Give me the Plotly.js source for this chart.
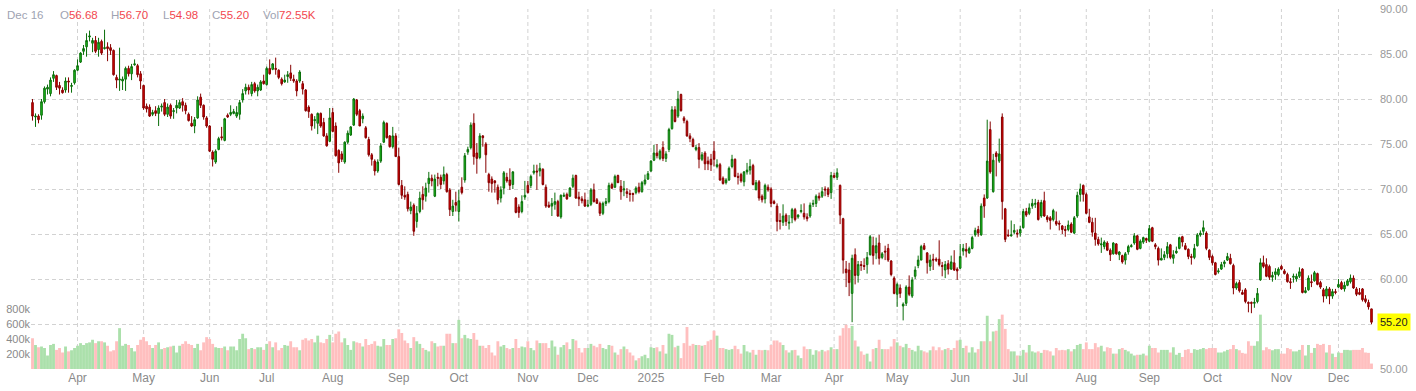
<!DOCTYPE html>
<html><head><meta charset="utf-8">
<script src="https://cdn.plot.ly/plotly-3.0.1.min.js"></script>
<style>html,body{margin:0;padding:0;background:#fff;}#chart{width:1416px;height:391px;}</style>
</head><body><div id="chart"></div>
<script>
// ---- calendar (categories) ----
const startDate = '2024-03-08';
const endDate = '2025-12-16';
const marketHolidays = ['2024-03-29','2024-05-27','2024-06-19','2024-07-04','2024-09-02','2024-11-28','2024-12-25',
  '2025-01-01','2025-01-20','2025-02-17','2025-04-18','2025-05-26','2025-06-19','2025-07-04','2025-09-01','2025-11-27'];
const monthTickLabels = ['Apr','May','Jun','Jul','Aug','Sep','Oct','Nov','Dec','2025','Feb','Mar','Apr','May','Jun','Jul','Aug','Sep','Oct','Nov','Dec'];
const volumeTickVals = [200,400,600,800];
const volumeTickText = ['200k','400k','600k','800k'];

// ---- OHLC (one line per month) ----
const open = [
79.6,78.0,78.1,78.2,79.7,81.1,80.6,82.3,82.6,81.5,81.0,81.0,82.0,81.4,81.8,
83.2,84.1,85.3,85.8,86.9,86.2,86.5,85.5,86.4,85.6,85.8,85.7,85.4,82.4,82.1,82.0,82.2,83.4,82.8,83.8,83.7,82.8,
81.5,79.2,79.1,78.3,78.7,78.4,79.1,79.6,78.3,79.3,78.6,79.0,79.0,79.7,79.3,78.3,77.3,77.0,77.9,80.2,79.3,77.9,
77.0,74.1,73.0,74.4,75.8,75.4,78.2,78.3,78.4,78.1,78.3,79.9,80.9,81.3,80.6,81.7,80.9,81.0,82.0,
81.6,83.4,83.3,83.4,83.2,82.2,81.9,82.5,82.9,82.2,82.0,82.0,81.7,81.0,79.1,78.3,77.6,77.3,78.4,77.4,75.9,75.3,
78.5,77.0,74.3,73.9,73.0,75.2,76.0,77.1,79.9,78.7,77.8,76.8,75.5,73.8,73.1,72.0,73.1,75.2,77.3,75.9,74.7,75.9,
73.6,70.4,69.3,69.4,67.6,68.2,66.4,67.5,69.4,69.2,70.6,71.2,69.2,71.3,71.3,70.9,71.6,69.9,67.5,68.5,
67.5,70.2,71.0,74.1,74.6,77.3,74.0,73.5,75.9,75.0,71.6,71.1,70.9,70.2,69.0,70.1,71.3,71.0,70.5,69.0,68.0,67.5,69.1,
70.4,70.4,71.8,72.0,72.0,72.2,70.2,68.2,68.1,68.3,68.6,66.9,69.2,69.4,69.2,70.3,71.5,69.1,68.9,68.8,
68.1,68.3,69.9,68.8,68.4,67.3,68.4,68.6,70.5,70.2,71.5,70.3,69.9,69.7,69.5,69.5,69.6,70.2,69.7,70.6,71.1,
72.0,73.2,74.0,73.4,74.6,73.4,74.4,76.7,78.8,78.1,80.5,77.9,77.5,75.9,75.5,74.4,74.6,73.3,74.0,73.1,73.3,
74.2,72.5,72.7,71.2,70.7,71.0,72.5,73.3,71.4,71.6,70.8,71.9,72.1,72.6,69.9,70.8,69.2,68.9,70.2,
70.0,68.6,68.1,66.5,66.3,67.1,66.2,66.8,67.7,66.9,67.5,67.3,66.9,67.0,68.3,68.4,69.2,69.2,70.0,70.0,69.6,
71.5,71.3,70.4,66.7,61.1,61.0,58.4,62.7,60.4,61.6,61.5,61.6,62.7,63.7,62.9,64.0,62.4,63.1,63.4,62.0,60.1,
58.3,59.0,57.0,57.3,59.1,58.1,60.3,61.5,62.1,63.7,62.9,61.4,62.2,62.2,62.2,61.5,61.0,61.7,61.1,61.8,61.1,
61.2,63.1,63.3,62.9,63.4,64.9,65.5,64.9,69.0,69.0,76.6,69.7,74.0,73.1,78.0,67.8,64.9,64.8,65.2,65.1,
65.1,65.7,67.5,67.3,68.1,68.3,68.5,67.0,68.7,66.9,66.8,66.6,66.4,66.2,65.9,65.5,65.5,66.1,65.1,67.0,69.4,70.4,
69.4,66.9,66.3,65.1,64.4,63.8,63.6,64.0,63.2,62.8,63.9,62.7,62.6,62.1,63.0,63.6,64.0,64.8,63.4,64.1,64.5,
64.2,65.7,63.8,63.4,62.1,62.4,62.8,63.8,62.3,62.9,63.4,64.7,63.7,63.3,62.5,62.4,63.7,64.9,65.3,65.1,63.2,
62.5,61.8,60.8,61.1,61.7,62.1,62.3,61.5,59.0,59.6,58.5,58.8,57.4,57.4,57.3,57.5,59.9,61.8,61.6,61.4,60.2,60.5,60.5,
61.4,60.9,60.5,59.7,60.2,60.0,60.3,61.1,58.5,58.8,59.7,59.8,60.6,59.6,58.8,58.1,58.9,58.1,58.6,
59.1,59.6,58.9,59.3,59.7,60.1,58.9,58.5,58.9,57.8,57.4,56.68
];
const high = [
80.0,78.4,78.3,80.0,81.4,81.6,82.4,83.1,82.7,81.9,81.3,82.4,82.4,81.8,83.3,
84.4,85.2,86.0,87.3,87.6,86.8,87.0,86.8,86.6,87.7,86.3,86.1,85.5,82.7,85.7,82.5,83.6,83.7,83.9,84.4,83.9,83.1,
81.6,79.5,79.4,78.8,79.2,79.3,79.5,80.0,79.5,79.5,79.0,79.9,79.9,80.1,79.6,78.5,78.1,78.0,80.3,80.6,79.4,78.1,
77.1,74.3,74.4,75.8,76.9,77.9,78.4,79.3,78.9,79.2,79.9,81.1,81.7,81.6,81.9,81.9,81.6,82.1,82.7,
83.6,84.4,84.0,84.6,83.3,82.4,82.7,83.1,83.8,82.7,82.2,83.2,82.0,81.1,79.3,78.4,78.1,78.5,78.5,77.9,76.2,79.0,
79.0,77.4,74.4,74.2,75.3,76.5,77.0,80.1,80.0,78.9,78.4,77.0,75.8,74.0,73.3,73.3,75.1,77.6,77.4,76.0,76.9,76.2,
74.6,71.0,70.3,69.7,68.6,68.4,68.1,69.7,70.3,70.7,71.9,71.6,71.6,71.8,71.6,72.5,71.8,70.1,68.8,69.7,
69.9,71.3,74.0,74.7,77.4,78.4,75.1,76.2,76.0,75.2,71.8,71.4,71.0,70.5,70.3,72.0,71.8,72.3,72.0,69.1,68.3,69.3,70.9,
70.9,71.6,72.7,72.7,72.9,72.3,70.5,68.6,69.0,69.6,68.8,69.4,69.6,69.6,70.2,71.6,71.6,69.7,69.2,69.6,
68.8,70.1,70.6,69.0,68.6,68.6,69.0,70.7,70.7,71.6,71.6,71.0,70.9,70.1,69.9,69.6,70.3,70.7,70.9,71.6,72.0,
73.2,74.9,75.0,74.4,75.3,74.2,76.8,79.2,79.2,80.9,80.6,78.1,77.7,76.2,75.7,74.9,75.1,74.1,74.2,73.6,73.9,
75.3,73.3,72.9,71.4,71.2,72.5,73.8,73.4,71.8,71.8,72.0,72.9,73.3,72.8,71.0,71.0,69.4,70.6,70.5,
70.2,68.8,68.4,67.3,68.3,67.3,67.1,67.9,67.9,67.2,68.3,68.4,67.3,68.5,68.8,69.4,69.6,70.2,70.3,70.2,71.9,
71.8,72.3,70.5,66.8,62.0,61.8,62.7,63.4,62.0,62.0,62.3,63.0,64.9,64.7,64.6,64.9,63.0,63.7,63.9,62.1,60.3,
59.6,59.4,57.4,59.3,60.4,60.2,61.4,62.6,63.8,64.0,63.0,62.7,62.8,62.4,64.3,61.9,62.0,62.1,62.6,63.2,61.3,
63.9,63.9,64.0,63.6,64.8,65.7,65.9,68.4,69.4,77.7,77.5,73.9,74.2,75.6,78.4,67.9,65.5,66.5,66.1,65.5,
65.9,67.8,67.9,68.4,68.9,68.9,68.8,68.8,69.7,67.1,67.0,67.8,67.5,66.5,66.0,65.9,66.5,66.3,67.0,69.7,70.6,70.5,
69.6,67.8,66.8,66.8,64.7,64.6,64.3,64.2,63.4,64.1,64.0,63.1,62.7,63.0,63.8,63.9,65.1,64.9,64.4,64.7,64.6,
66.0,65.8,64.0,63.6,63.4,63.1,64.1,63.9,63.2,63.6,64.7,64.8,64.0,63.4,62.8,63.9,65.1,65.4,66.5,65.3,63.3,
62.7,61.9,61.2,61.9,62.1,62.9,62.8,61.7,59.7,59.9,58.8,59.0,57.5,57.5,57.9,59.0,62.3,62.6,62.3,61.6,60.8,61.2,61.3,
61.6,61.1,60.7,60.1,60.6,60.6,61.3,61.2,59.1,60.4,60.5,60.9,60.7,59.8,59.0,59.2,59.1,58.9,58.9,
60.0,59.8,59.7,60.0,60.5,60.4,59.1,59.0,59.0,58.2,57.7,56.70
];
const low = [
77.6,76.9,77.3,77.7,79.5,80.5,80.3,81.9,81.0,80.5,80.6,80.7,80.7,80.7,81.6,
83.1,84.0,84.9,84.7,86.4,85.2,85.1,84.7,84.9,85.5,84.2,84.9,82.6,81.2,80.9,81.0,80.9,82.5,82.1,83.7,82.4,81.1,
78.8,78.5,78.0,78.1,78.1,77.0,78.6,78.1,78.0,77.8,77.8,78.4,78.9,78.6,78.3,77.5,76.9,76.2,77.8,79.0,77.7,76.8,
74.1,72.5,72.8,74.3,75.4,75.3,77.9,78.1,78.3,77.9,77.7,79.6,80.5,80.5,80.3,80.7,80.3,80.9,81.6,
81.5,82.7,83.2,82.7,82.2,81.5,81.8,81.8,82.0,81.8,80.3,81.8,80.5,78.6,77.9,76.5,76.7,76.1,76.8,75.8,74.7,75.2,
76.3,73.6,71.8,73.0,72.8,75.0,75.9,77.0,78.1,77.0,77.3,75.6,73.6,72.6,71.5,71.8,72.9,75.1,75.6,74.6,74.5,73.6,
70.4,68.9,68.8,67.5,67.2,64.8,65.7,67.3,67.7,68.6,69.6,70.3,69.1,70.3,70.0,70.5,69.6,67.0,67.0,67.5,
66.4,69.4,70.7,73.8,74.4,72.7,71.7,73.3,74.7,71.8,69.7,69.6,69.6,68.3,68.5,69.4,70.7,69.9,70.0,67.3,66.8,67.3,68.8,
69.5,70.1,71.6,69.9,71.4,70.4,67.9,67.9,67.0,67.7,66.9,66.7,69.1,68.8,69.1,70.1,68.9,68.1,68.4,68.0,
68.0,68.1,68.5,68.4,67.0,67.1,68.1,68.4,70.0,70.1,70.7,68.8,69.2,69.0,68.6,68.6,69.4,69.5,69.6,70.4,71.0,
71.9,73.1,73.4,73.2,73.1,73.0,74.1,76.6,77.4,77.9,78.6,77.3,75.8,75.2,74.7,74.2,72.3,73.1,72.1,72.1,72.0,
72.5,72.3,70.9,70.5,70.5,70.9,72.3,71.3,70.5,70.7,70.3,71.6,71.6,70.4,69.9,68.7,68.5,68.4,69.7,
68.0,68.3,65.3,65.5,65.9,65.9,65.5,66.2,66.4,66.7,67.3,66.6,66.4,66.8,68.0,68.0,68.7,69.0,69.2,69.1,68.9,
71.2,71.0,66.1,60.6,59.1,58.1,55.2,59.4,59.6,60.9,61.0,60.6,62.6,61.6,62.2,61.6,62.2,62.1,61.9,60.3,58.3,
56.9,57.9,55.4,57.0,58.1,57.9,60.0,61.2,62.1,63.2,60.6,60.9,61.0,61.9,61.4,60.3,60.1,60.5,61.0,60.9,59.9,
61.1,62.6,62.4,62.8,63.3,64.7,64.7,64.8,66.8,68.9,71.7,69.6,71.4,72.9,66.6,64.1,64.7,64.7,65.0,64.6,
64.7,65.6,66.9,67.1,67.8,67.9,66.5,66.8,66.9,66.3,65.5,66.4,65.9,65.4,65.0,64.7,65.3,65.1,65.0,66.8,68.6,68.6,
67.2,66.2,64.7,63.7,63.7,62.9,63.3,63.1,62.0,62.7,62.7,62.1,61.7,61.6,62.7,63.5,63.8,63.2,63.3,63.9,64.0,
64.1,64.1,63.3,61.5,62.1,62.1,62.3,62.2,61.7,62.8,63.3,63.6,63.2,62.2,61.6,62.2,63.6,64.7,64.9,63.2,62.1,
61.5,60.4,60.6,61.0,61.3,62.0,61.6,58.3,58.8,58.5,58.3,57.3,56.3,56.2,56.8,57.3,59.8,61.2,60.2,59.9,59.7,59.9,60.3,
61.0,60.5,59.6,58.9,59.6,59.7,60.1,58.4,58.4,58.7,59.1,59.7,59.3,58.9,57.4,57.8,57.2,57.8,58.3,
59.0,58.8,58.6,59.2,59.5,58.9,58.1,58.2,57.5,57.3,56.6,54.98
];
const close = [
78.1,78.1,77.7,79.7,81.2,81.3,82.1,82.7,81.3,81.2,80.7,82.0,81.9,81.5,83.2,
83.7,85.1,85.6,86.5,87.0,86.5,85.3,86.3,85.1,85.7,85.6,85.4,82.7,82.1,82.2,82.2,83.4,82.8,83.6,83.9,82.7,82.0,
79.0,78.9,78.1,78.5,78.4,79.0,79.2,78.3,79.1,78.1,78.7,79.3,79.6,79.3,78.7,77.6,77.0,77.7,79.9,79.3,78.0,77.0,
74.2,73.3,74.2,75.6,75.7,77.8,78.0,78.5,78.6,78.5,79.6,80.6,81.3,81.0,81.6,80.9,81.3,81.9,81.7,
83.4,82.8,83.9,83.3,82.4,81.7,82.1,82.7,82.3,82.0,80.9,83.0,81.1,78.7,78.6,77.0,77.7,78.4,77.0,75.9,74.8,77.9,
76.4,73.7,72.9,73.3,75.2,76.2,76.9,80.0,78.3,77.0,78.1,75.7,73.8,73.3,72.0,73.0,74.8,77.4,75.7,74.7,75.9,73.6,
70.5,69.3,69.1,67.8,68.0,65.3,67.3,69.0,68.8,70.1,71.2,70.9,71.1,71.2,70.5,71.6,69.7,67.7,68.1,68.2,
68.7,69.6,73.7,74.4,77.1,73.6,73.4,75.9,75.7,73.8,70.7,70.6,70.7,68.8,69.9,71.8,70.9,70.4,71.9,67.4,67.4,68.6,69.3,
69.6,71.4,72.0,71.9,72.3,70.5,68.1,68.0,68.4,68.6,67.0,69.3,69.3,68.9,70.1,71.2,69.0,68.9,68.7,68.1,
68.2,69.9,68.6,68.4,67.3,68.4,68.6,70.4,70.1,71.4,70.7,69.7,70.0,69.5,69.4,69.4,70.1,69.7,70.7,71.0,71.7,
73.1,74.0,73.7,74.2,73.4,73.9,76.6,78.8,77.5,80.0,78.7,77.6,75.9,75.6,74.7,74.6,73.3,73.8,72.8,72.8,72.7,
73.3,72.7,71.0,70.6,71.0,72.3,73.3,71.4,71.3,70.9,71.9,72.1,72.5,70.5,70.7,69.0,68.8,70.4,69.9,
68.4,68.4,66.4,66.4,67.0,66.4,66.3,67.7,66.6,67.1,67.6,66.9,66.7,68.2,68.4,69.2,69.0,69.7,69.9,69.4,71.5,
71.3,71.8,67.1,62.1,60.7,59.6,62.3,60.4,61.6,61.5,61.4,62.4,64.7,62.6,63.7,62.3,62.8,63.0,62.1,60.5,58.4,
59.4,58.4,57.2,59.1,58.3,59.9,61.0,62.1,63.6,63.3,61.8,62.1,62.1,62.1,61.6,61.4,61.6,61.1,61.9,61.0,60.9,
62.5,63.4,63.1,63.4,64.6,65.4,65.1,68.1,68.1,73.1,71.9,73.2,73.6,73.9,68.6,64.4,64.8,64.9,65.4,65.0,
65.5,67.5,67.1,67.9,68.4,68.4,66.6,68.5,67.0,66.6,66.5,67.6,66.1,66.1,65.5,65.4,66.0,65.2,66.8,69.3,70.0,69.4,
67.3,66.3,65.2,64.4,63.9,63.9,64.1,63.2,62.7,64.0,62.8,63.0,61.9,62.8,63.6,63.7,64.8,63.3,64.2,64.6,64.3,
65.6,64.2,63.6,62.1,62.3,62.7,63.6,62.4,62.7,63.1,64.6,64.1,63.3,62.5,62.4,63.4,64.9,65.1,65.7,63.4,62.4,
61.8,60.5,60.9,61.6,61.9,62.5,61.7,59.0,59.5,58.7,58.3,57.5,57.3,57.3,57.4,58.4,61.8,61.4,60.3,60.2,60.4,60.8,61.1,
61.1,60.6,59.7,59.6,60.3,60.3,60.8,58.5,58.7,60.1,59.6,60.7,59.4,59.1,58.1,58.9,58.1,58.6,58.5,
59.4,58.9,59.3,59.8,60.1,59.0,58.3,58.3,57.7,57.5,56.9,55.20
];
// volume in thousands
const volume = [
410,320,290,300,280,180,320,335,255,280,220,300,235,250,280,
310,345,320,345,355,390,345,370,370,355,310,235,250,370,545,310,335,320,280,235,320,390,
425,370,320,280,320,355,265,280,290,300,310,220,310,335,370,335,320,280,335,250,355,425,
400,335,290,280,280,300,250,300,300,250,400,470,410,265,280,265,290,290,255,
335,370,290,355,250,280,320,310,370,290,290,250,390,410,380,400,355,445,355,345,400,455,
355,470,500,355,410,320,255,370,355,345,300,400,320,335,370,310,300,400,320,320,400,410,
530,480,380,345,280,425,370,335,280,255,235,370,345,300,310,310,470,470,345,345,
655,410,455,410,400,480,390,310,310,280,320,220,180,370,300,320,280,265,280,400,280,300,290,
370,280,250,380,345,345,345,280,380,300,190,290,320,355,265,400,380,280,220,280,
280,335,310,290,335,280,265,320,310,220,190,265,300,265,220,180,115,145,170,190,145,
290,280,290,235,320,205,470,455,290,310,145,345,560,310,335,320,320,310,320,370,390,
510,445,280,280,265,255,265,310,265,205,320,235,220,255,190,255,250,255,250,
320,380,380,355,320,250,220,250,255,180,145,300,265,265,190,250,235,255,235,250,290,
265,265,445,545,590,545,575,380,300,235,190,205,100,265,280,390,265,265,265,300,400,
355,310,290,335,280,255,235,310,250,235,220,250,300,250,290,250,265,280,255,280,380,
390,280,310,220,290,220,265,370,370,710,370,500,510,665,725,535,265,235,235,180,
180,255,220,320,235,220,235,215,255,250,235,180,280,250,255,250,265,235,265,320,335,265,
355,265,265,345,290,310,235,290,280,205,205,265,280,255,235,205,180,190,190,205,180,
310,280,280,220,255,255,255,220,290,190,215,160,255,265,215,265,255,265,280,265,280,
280,280,220,220,235,255,265,320,265,250,215,205,370,310,310,370,725,250,290,265,250,265,265,
205,205,280,265,235,235,255,320,180,320,215,280,335,320,335,220,320,205,160,
220,215,255,255,250,255,255,255,280,220,215,72.55
];

// ---- build dates ----
function tradingDays(start, end, skip) {
  const out = [];
  const d = new Date(start + 'T00:00:00Z');
  const e = new Date(end + 'T00:00:00Z');
  while (d <= e) {
    const s = d.toISOString().slice(0, 10);
    const wd = d.getUTCDay();
    if (wd !== 0 && wd !== 6 && skip.indexOf(s) < 0) out.push(s);
    d.setUTCDate(d.getUTCDate() + 1);
  }
  return out;
}
const dates = tradingDays(startDate, endDate, marketHolidays);
if (dates.length !== close.length) console.warn('length mismatch', dates.length, close.length);

const tickvals = [];
for (let i = 1; i < dates.length; i++) {
  if (dates[i].slice(0, 7) !== dates[i - 1].slice(0, 7)) tickvals.push(dates[i]);
}

const upColor = '#1fc91f', upLine = '#0a6e0a';
const downColor = '#dd0000', downLine = '#870000';
const volColors = close.map((c, i) => c >= open[i] ? '#abe0ab' : '#ffbfbf');

const W = 1416, H = 391, ML = 31, MR = 43, MT = 9, MB = 22;
const PW = W - ML - MR, PH = H - MT - MB;
const px2x = px => (px - ML) / PW;
const py2y = py => 1 - (py - MT) / PH;

const n = close.length - 1;
const months = ['Jan','Feb','Mar','Apr','May','Jun','Jul','Aug','Sep','Oct','Nov','Dec'];
const lastDate = dates[dates.length - 1];
const lastLabel = months[parseInt(lastDate.slice(5, 7), 10) - 1] + ' ' + parseInt(lastDate.slice(8, 10), 10);
const valColor = close[n] >= open[n] ? '#2aa52a' : '#f2474f';
const lab = '#9ea3b2';
const v = t => '<span style="color:' + valColor + '">' + t + '</span>';

const headerItems = [
  {px: 5, text: lastLabel},
  {px: 58, text: 'O' + v(open[n].toFixed(2))},
  {px: 109, text: 'H' + v(high[n].toFixed(2))},
  {px: 161, text: 'L' + v(low[n].toFixed(2))},
  {px: 210, text: 'C' + v(close[n].toFixed(2))},
  {px: 261, text: 'Vol' + v(volume[n].toFixed(2) + 'K')}
];
const fontFam = 'Arial, "Liberation Sans", sans-serif';
const annotations = headerItems.map(h => ({
  xref: 'paper', yref: 'paper', x: px2x(h.px), y: py2y(15), xanchor: 'left', yanchor: 'middle',
  text: h.text, showarrow: false, font: {size: 11.5, color: lab, family: fontFam}
}));
annotations.push({
  xref: 'paper', yref: 'y2', x: 1, y: close[n], xanchor: 'left', yanchor: 'middle', xshift: 4,
  text: close[n].toFixed(2), showarrow: false, bgcolor: '#ffff00', borderpad: 2,
  font: {size: 11, color: '#222', family: fontFam}
});

const grid = '#d2d2d2';
// vertical month gridlines
const shapes = tickvals.map(t => ({
  type: 'line', xref: 'x', yref: 'paper', x0: t, x1: t, y0: 0, y1: 1, layer: 'below',
  line: {color: grid, width: 1, dash: '4px,3px'}
}));

const traces = [
  {type: 'bar', x: dates, y: volume, xaxis: 'x', yaxis: 'y',
   marker: {color: volColors, line: {width: 0}}, hoverinfo: 'skip'},
  {type: 'candlestick', x: dates, open: open, high: high, low: low, close: close,
   xaxis: 'x', yaxis: 'y2', whiskerwidth: 0,
   increasing: {line: {color: upLine, width: 1}, fillcolor: upColor},
   decreasing: {line: {color: downLine, width: 1}, fillcolor: downColor},
   hoverinfo: 'skip'}
];

const layout = {
  width: W, height: H,
  margin: {l: ML, r: MR, t: MT, b: MB, pad: 0},
  paper_bgcolor: '#ffffff', plot_bgcolor: '#ffffff',
  showlegend: false, bargap: 0.05, boxgap: 0.25,
  font: {family: fontFam, size: 11, color: '#888'},
  xaxis: {type: 'category', range: [-0.5, dates.length - 0.5], tickmode: 'array',
    tickvals: tickvals, ticktext: monthTickLabels, showgrid: false,
    ticks: '', showline: false, zeroline: false, rangeslider: {visible: false},
    tickfont: {size: 12, color: '#8a8a8a'}, fixedrange: true},
  yaxis: {range: [0, 4800], side: 'left', tickmode: 'array', tickvals: volumeTickVals, ticktext: volumeTickText,
    showgrid: false, zeroline: false, ticks: '', showline: false, tickfont: {size: 11, color: '#8a8a8a'}, fixedrange: true},
  yaxis2: {overlaying: 'y', side: 'right', range: [50, 90], tick0: 50, dtick: 5, tickformat: '.2f',
    showgrid: true, gridcolor: grid, griddash: '4px,3px', gridwidth: 1, zeroline: false, ticks: '',
    showline: false, tickfont: {size: 11, color: '#999'}, ticklabelstandoff: 6, fixedrange: true},
  shapes: shapes,
  annotations: annotations
};

Plotly.newPlot('chart', traces, layout, {displayModeBar: false, staticPlot: true});
</script>
</body></html>
